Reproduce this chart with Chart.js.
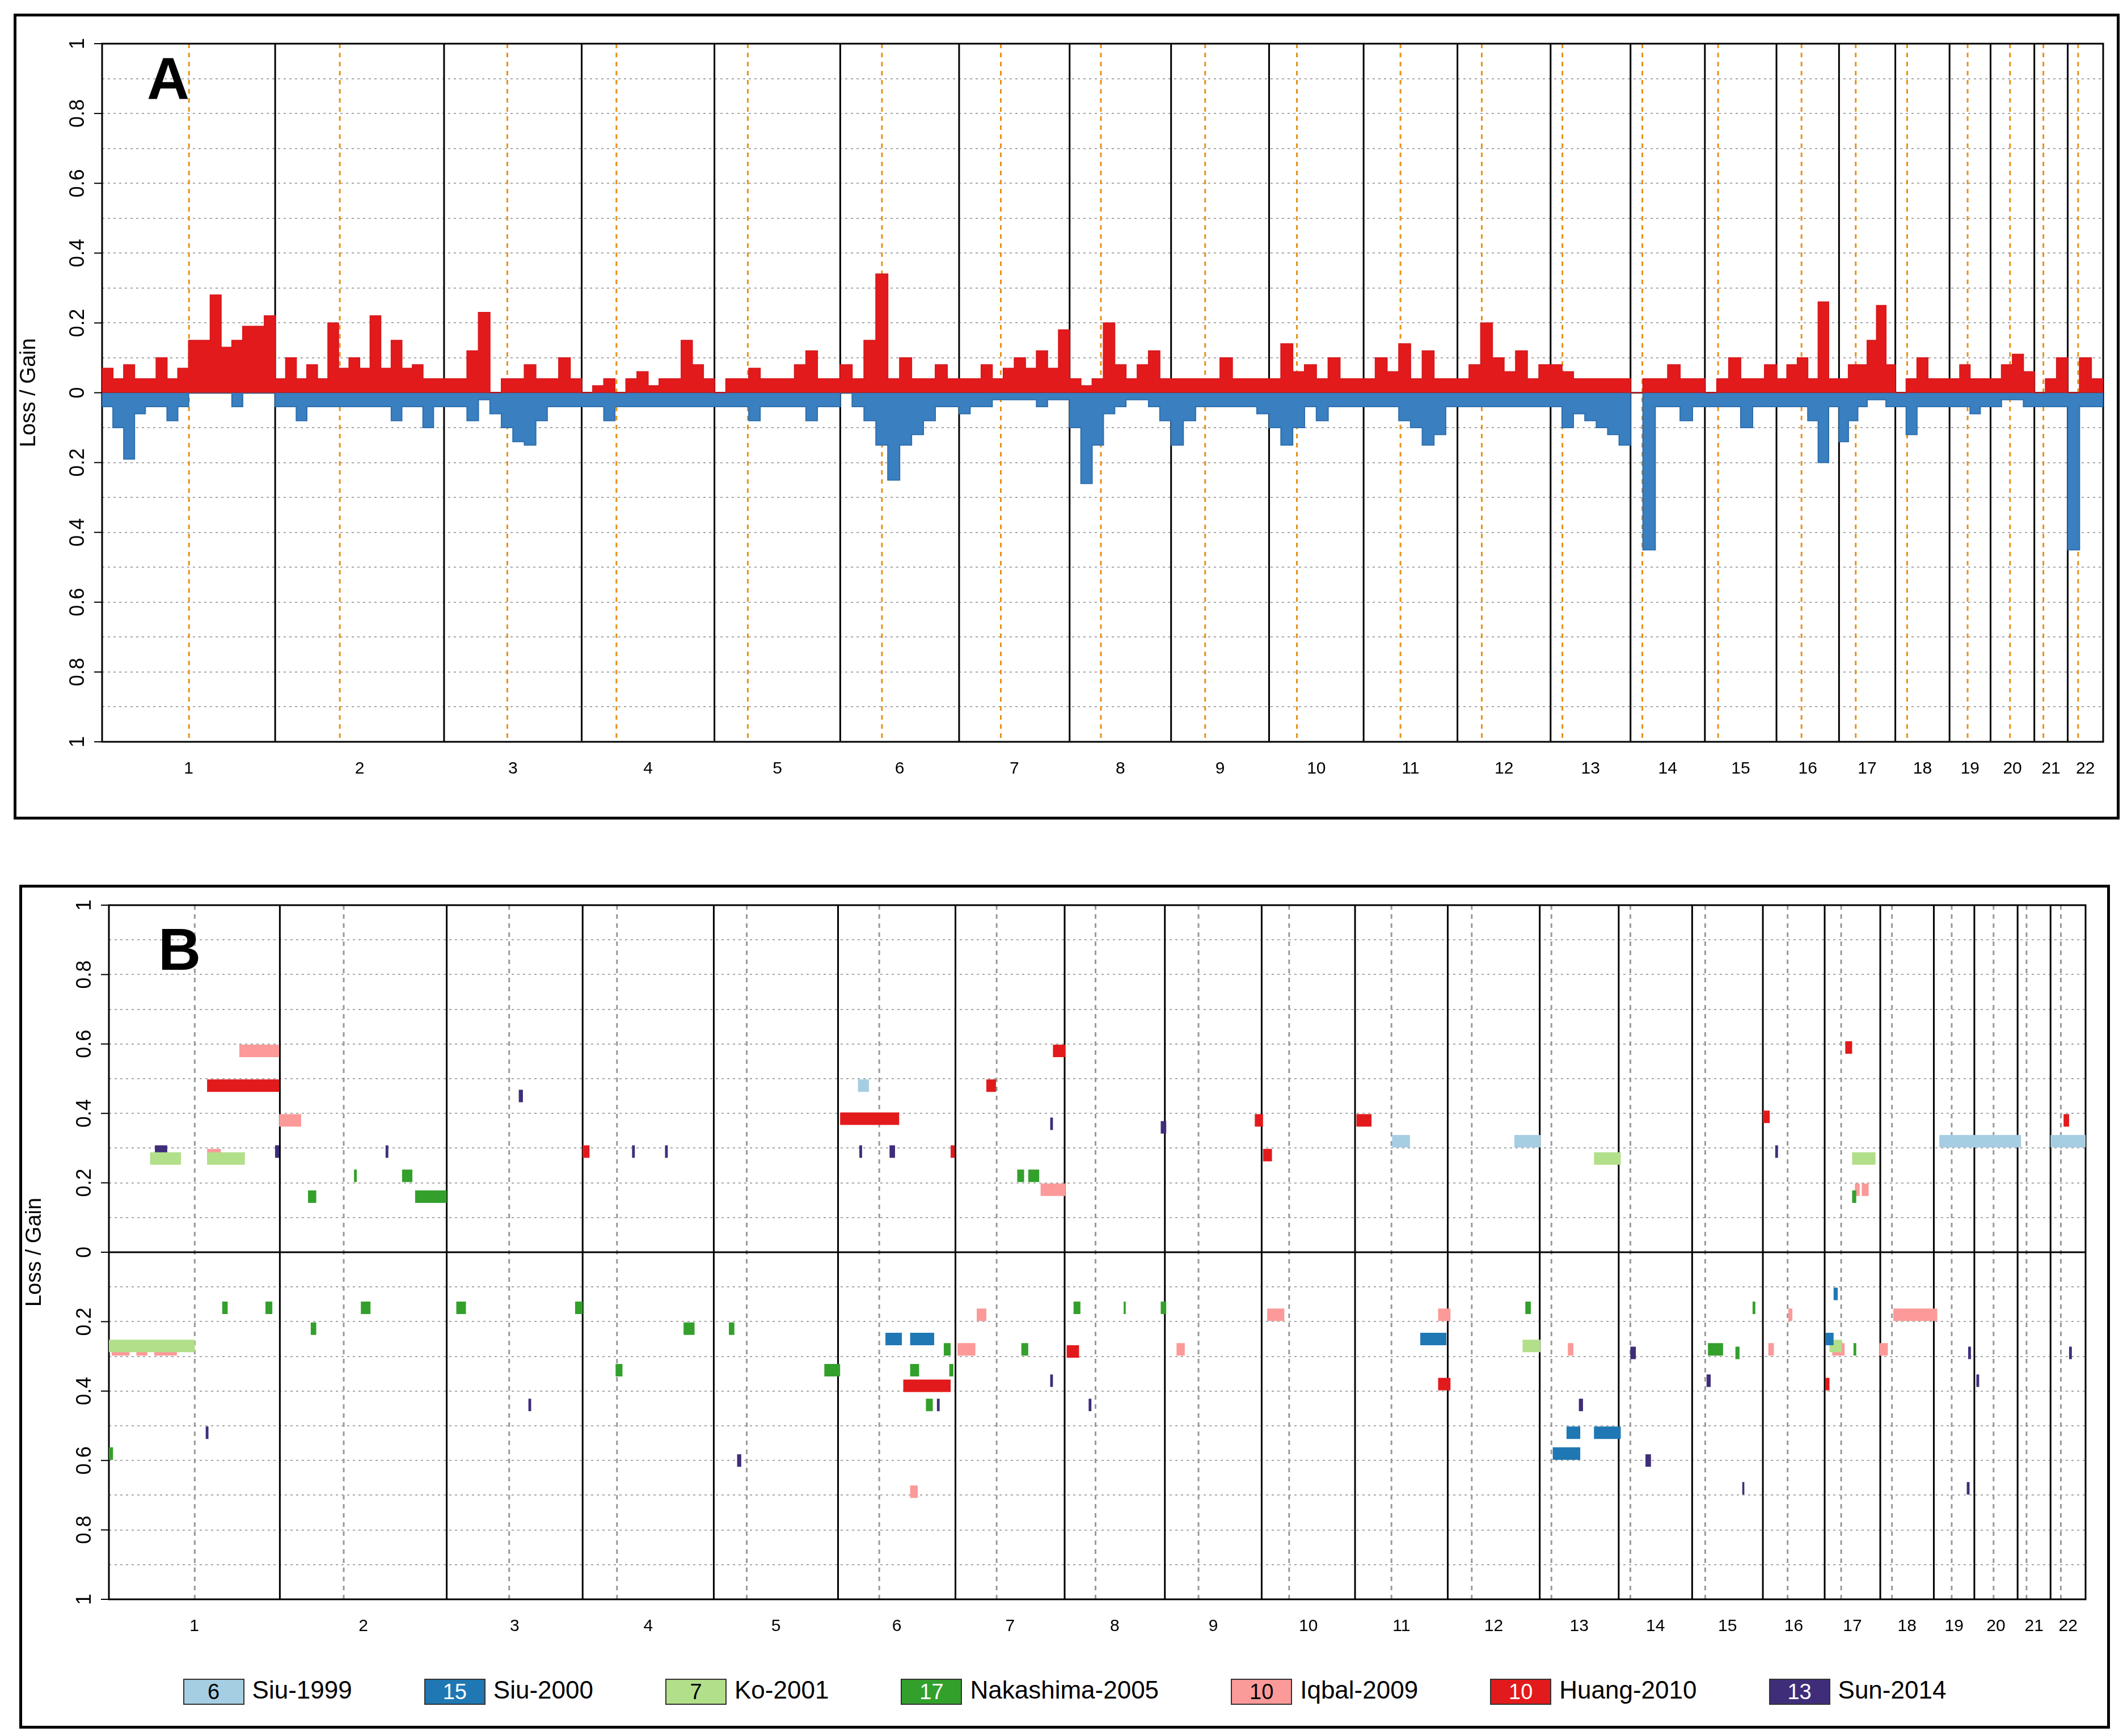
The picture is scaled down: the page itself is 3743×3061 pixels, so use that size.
<!DOCTYPE html>
<html lang="en">
<head>
<meta charset="UTF-8">
<title>Loss / Gain</title>
<script src="https://cdn.jsdelivr.net/npm/chart.js"></script>
<style>
  body { margin: 0; background: #fff; font-family: "Liberation Sans", Arial, sans-serif; }
  .panel { position: absolute; border: 5px solid #000; background: #fff; }
  .tag { position: absolute; font-weight: bold; font-size: 104px; }
  .legend { position: absolute; left: 0; right: 0; display: flex; justify-content: space-around; padding: 0 220px; font-size: 44px; }
  .legend span.box { display: inline-block; width: 104px; height: 42px; border: 2px solid #333; text-align: center; line-height: 42px; font-size: 38px; margin-right: 14px; vertical-align: middle; }
</style>
</head>
<body>
<div class="panel" style="left:24px;top:24px;width:3703px;height:1411px">
  <canvas id="chartA" width="3703" height="1411"></canvas>
  <div class="tag" style="left:230px;top:50px">A</div>
</div>
<div class="panel" style="left:34px;top:1560px;width:3676px;height:1478px">
  <canvas id="chartB" width="3676" height="1330"></canvas>
  <div class="tag" style="left:240px;top:50px">B</div>
  <div class="legend" id="legendB" style="top:1390px"></div>
</div>
<script>
// chromosome lengths and centromere positions (Mb)
const chromLabels = ['1','2','3','4','5','6','7','8','9','10','11','12','13','14','15','16','17','18','19','20','21','22'];
const chromLen = [249,243,198,191,181,171,159,146,141,136,135,134,115,107,103,90,81,78,59,63,48,51];
const centromere = [125,93,91,50,48,60,60,45,49,40,53,35,17,17,19,36,24,17,26,28,13,15];

// Panel A: gain / loss frequency, evenly spaced bins within each chromosome
const gainByChrom = [
  [0.07,0.04,0.08,0.04,0.04,0.1,0.04,0.07,0.15,0.15,0.28,0.13,0.15,0.19,0.19,0.22],
  [0.04,0.1,0.04,0.08,0.04,0.2,0.07,0.1,0.07,0.22,0.07,0.15,0.07,0.08,0.04,0.04],
  [0.04,0.04,0.12,0.23,0,0.04,0.04,0.08,0.04,0.04,0.1,0.04],
  [0,0.02,0.04,0,0.04,0.06,0.02,0.04,0.04,0.15,0.08,0.04],
  [0,0.04,0.04,0.07,0.04,0.04,0.04,0.08,0.12,0.04,0.04],
  [0.08,0.04,0.15,0.34,0.04,0.1,0.04,0.04,0.08,0.04],
  [0.04,0.04,0.08,0.04,0.07,0.1,0.07,0.12,0.07,0.18],
  [0.04,0.02,0.04,0.2,0.08,0.04,0.08,0.12,0.04],
  [0.04,0.04,0.04,0.04,0.1,0.04,0.04,0.04],
  [0.04,0.14,0.06,0.08,0.04,0.1,0.04,0.04],
  [0.04,0.1,0.06,0.14,0.04,0.12,0.04,0.04],
  [0.04,0.08,0.2,0.1,0.06,0.12,0.04,0.08],
  [0.08,0.06,0.04,0.04,0.04,0.04,0.04],
  [0,0.04,0.04,0.08,0.04,0.04],
  [0,0.04,0.1,0.04,0.04,0.08],
  [0.04,0.08,0.1,0.04,0.26,0.04],
  [0.04,0.08,0.08,0.15,0.25,0.08],
  [0,0.04,0.1,0.04,0.04],
  [0.04,0.08,0.04,0.04],
  [0.04,0.08,0.11,0.06],
  [0,0.04,0.1],
  [0,0.1,0.04]
];
const lossByChrom = [
  [0.04,0.1,0.19,0.06,0.04,0.04,0.08,0.04,0,0,0,0,0.04,0,0,0],
  [0.04,0.04,0.08,0.04,0.04,0.04,0.04,0.04,0.04,0.04,0.04,0.08,0.04,0.04,0.1,0.04],
  [0.04,0.04,0.08,0.02,0.06,0.1,0.14,0.15,0.08,0.04,0.04,0.04],
  [0.04,0.04,0.08,0.04,0.04,0.04,0.04,0.04,0.04,0.04,0.04,0.04],
  [0.04,0.04,0.04,0.08,0.04,0.04,0.04,0.04,0.08,0.04,0.04],
  [0,0.04,0.08,0.15,0.25,0.15,0.12,0.08,0.04,0.04],
  [0.06,0.04,0.04,0.02,0.02,0.02,0.02,0.04,0.02,0.02],
  [0.1,0.26,0.15,0.06,0.04,0.02,0.02,0.04,0.08],
  [0.15,0.08,0.04,0.04,0.04,0.04,0.04,0.06],
  [0.1,0.15,0.1,0.04,0.08,0.04,0.04,0.04],
  [0.04,0.04,0.04,0.08,0.1,0.15,0.12,0.04],
  [0.04,0.04,0.04,0.04,0.04,0.04,0.04,0.04],
  [0.04,0.1,0.06,0.08,0.1,0.12,0.15],
  [0,0.45,0.04,0.04,0.08,0.04],
  [0.04,0.04,0.04,0.1,0.04,0.04],
  [0.04,0.04,0.04,0.08,0.2,0.04],
  [0.14,0.08,0.04,0.02,0.02,0.04],
  [0.04,0.12,0.04,0.04,0.04],
  [0.04,0.04,0.06,0.04],
  [0.04,0.02,0.02,0.04],
  [0.04,0.04,0.04],
  [0.45,0.04,0.04]
];

// Panel B: segments per study [start Mb, end Mb, frequency] in genome-wide coordinates
const siu1999 = [[1091,1107,0.48],[1869,1895,0.32],[2047,2085,0.32],[2666,2785,0.32],[2828,2880,0.32]];
const siu2000 = [[1131,1155,-0.25],[1167,1202,-0.25],[1910,1948,-0.25],[2103,2143,-0.58],[2123,2143,-0.52],[2163,2202,-0.52],[2500,2512,-0.25],[2512,2518,-0.12]];
const ko2001 = [[60,105,0.27],[143,198,0.27],[2163,2202,0.27],[2539,2573,0.27],[0,125,-0.27],[2059,2085,-0.27],[2506,2524,-0.27]];
const nakashima2005 = [[290,302,0.16],[357,361,0.22],[427,442,0.22],[446,492,0.16],[1323,1333,0.22],[1339,1355,0.22],[2539,2545,0.16],
  [165,173,-0.16],[228,238,-0.16],[294,302,-0.22],[367,381,-0.16],[506,520,-0.16],[679,690,-0.16],[738,748,-0.34],[837,853,-0.22],[903,911,-0.22],
  [1042,1065,-0.34],[1167,1180,-0.34],[1216,1226,-0.28],[1190,1200,-0.44],[1224,1230,-0.34],[1329,1339,-0.28],[1405,1415,-0.16],[1478,1481,-0.16],
  [1532,1540,-0.16],[2063,2071,-0.16],[2329,2351,-0.28],[2369,2375,-0.29],[2394,2398,-0.16],[2541,2545,-0.28],[0,6,-0.58]];
const iqbal2009 = [[190,248,0.58],[248,280,0.38],[143,163,0.28],[1357,1393,0.18],[2543,2550,0.18],[2553,2563,0.18],
  [4,30,-0.28],[40,56,-0.28],[66,99,-0.28],[1264,1278,-0.18],[1236,1262,-0.28],[1687,1712,-0.18],[1555,1567,-0.28],[1936,1954,-0.18],
  [2125,2133,-0.28],[2446,2452,-0.18],[2417,2425,-0.28],[2510,2528,-0.28],[2579,2591,-0.28],[2599,2663,-0.18],[1167,1178,-0.69]];
const huang2010 = [[143,248,0.48],[1065,1151,0.385],[1375,1393,0.58],[1278,1292,0.48],[690,700,0.29],[1226,1232,0.29],[1669,1681,0.38],
  [1681,1694,0.28],[1817,1839,0.38],[2409,2419,0.39],[2529,2539,0.59],[2847,2855,0.38],
  [1157,1226,-0.385],[1395,1413,-0.286],[1936,1954,-0.38],[2500,2506,-0.38]];
const sun2014 = [[67,85,0.29],[597,603,0.45],[403,407,0.29],[242,248,0.29],[762,766,0.29],[810,814,0.29],[1093,1097,0.29],[1137,1145,0.29],
  [1371,1375,0.37],[1532,1540,0.36],[2427,2431,0.29],
  [141,145,-0.52],[611,615,-0.44],[915,921,-0.6],[1206,1210,-0.44],[1371,1375,-0.37],[1427,1431,-0.44],[2141,2147,-0.44],[2216,2224,-0.29],
  [2238,2246,-0.6],[2327,2333,-0.37],[2379,2382,-0.68],[2708,2712,-0.29],[2720,2724,-0.37],[2706,2710,-0.68],[2855,2859,-0.29]];

const studies = [
  {name:'Siu-1999', count:6, color:'#a6cee3', segs:siu1999},
  {name:'Siu-2000', count:15, color:'#1f78b4', segs:siu2000},
  {name:'Ko-2001', count:7, color:'#b2df8a', segs:ko2001},
  {name:'Nakashima-2005', count:17, color:'#33a02c', segs:nakashima2005},
  {name:'Iqbal-2009', count:10, color:'#fb9a99', segs:iqbal2009},
  {name:'Huang-2010', count:10, color:'#e31a1c', segs:huang2010},
  {name:'Sun-2014', count:13, color:'#3f2d7a', segs:sun2014}
];

// genome offsets
const offsets = [];
let acc = 0;
chromLen.forEach(l => { offsets.push(acc); acc += l; });
const genomeEnd = acc;
const centers = chromLen.map((l, i) => offsets[i] + l / 2);

function stepSeries(byChrom, sign) {
  const pts = [];
  byChrom.forEach((vals, c) => {
    const w = chromLen[c] / vals.length;
    vals.forEach((v, i) => pts.push({x: offsets[c] + i * w, y: sign * v}));
  });
  pts.push({x: genomeEnd, y: 0});
  return pts;
}

function linesPlugin(centroColor, centroDash) {
  return {
    id: 'chromLines',
    beforeDatasetsDraw(chart) {
      const {ctx, chartArea: a, scales: {x, y}} = chart;
      ctx.save();
      ctx.lineWidth = 3;
      ctx.strokeStyle = '#000';
      ctx.setLineDash([]);
      offsets.slice(1).forEach(o => {
        const px = x.getPixelForValue(o);
        ctx.beginPath(); ctx.moveTo(px, a.top); ctx.lineTo(px, a.bottom); ctx.stroke();
      });
      ctx.strokeStyle = centroColor;
      ctx.setLineDash(centroDash);
      centromere.forEach((c, i) => {
        const px = x.getPixelForValue(offsets[i] + c);
        ctx.beginPath(); ctx.moveTo(px, a.top); ctx.lineTo(px, a.bottom); ctx.stroke();
      });
      ctx.setLineDash([]);
      ctx.strokeStyle = '#000';
      const py = y.getPixelForValue(0);
      ctx.beginPath(); ctx.moveTo(a.left, py); ctx.lineTo(a.right, py); ctx.stroke();
      ctx.strokeRect(a.left, a.top, a.right - a.left, a.bottom - a.top);
      ctx.restore();
    },
    afterDraw(chart) {
      const {ctx, chartArea: a, scales: {y}} = chart;
      ctx.save();
      ctx.fillStyle = '#000';
      ctx.font = '36px "Liberation Sans", Arial';
      ctx.textAlign = 'center';
      ctx.textBaseline = 'middle';
      for (let k = -5; k <= 5; k++) {
        const v = k / 5;
        const py = y.getPixelForValue(v);
        ctx.beginPath(); ctx.moveTo(a.left - 14, py); ctx.lineTo(a.left, py); ctx.lineWidth = 2; ctx.stroke();
        ctx.save();
        ctx.translate(a.left - 42, py);
        ctx.rotate(-Math.PI / 2);
        ctx.fillText(String(Math.abs(v)), 0, 0);
        ctx.restore();
      }
      ctx.restore();
    }
  };
}

function axes(leftW, bottomH) {
  return {
    x: {
      type: 'linear', min: 0, max: genomeEnd,
      grid: {display: false},
      border: {display: false},
      afterBuildTicks: s => { s.ticks = centers.map(v => ({value: v})); },
      afterFit: s => { s.height = bottomH; },
      ticks: {autoSkip: false, maxRotation: 0, padding: 22, color: '#000',
        font: {size: 30, family: '"Liberation Sans", Arial'},
        callback: (v, i) => chromLabels[i]}
    },
    y: {
      min: -1, max: 1,
      afterFit: s => { s.width = leftW; },
      border: {display: false},
      grid: {color: '#a8a8a8', lineWidth: 2, drawTicks: false},
      ticks: {stepSize: 0.1, callback: () => ''},
      title: {display: true, text: 'Loss / Gain', color: '#000', padding: 0,
        font: {size: 38, family: '"Liberation Sans", Arial'}}
    }
  };
}

// dashed grid lines
Chart.defaults.scale.border.dash = [4, 6];

new Chart(document.getElementById('chartA'), {
  type: 'line',
  data: {
    datasets: [
      {data: stepSeries(gainByChrom, 1), stepped: 'before', fill: 'origin', borderColor: '#d7191c', backgroundColor: '#e31a1c', borderWidth: 2, pointRadius: 0},
      {data: stepSeries(lossByChrom, -1), stepped: 'before', fill: 'origin', borderColor: '#2c6fae', backgroundColor: '#3a7fc0', borderWidth: 2, pointRadius: 0}
    ]
  },
  options: {
    responsive: false, animation: false, devicePixelRatio: 1,
    layout: {padding: {top: 48, right: 24, left: 0, bottom: 0}},
    plugins: {legend: {display: false}, tooltip: {enabled: false}},
    scales: axes(151, 132)
  },
  plugins: [linesPlugin('#e8901a', [8, 8])]
});

new Chart(document.getElementById('chartB'), {
  type: 'line',
  data: {
    datasets: studies.map(s => ({
      label: s.name,
      data: s.segs.flatMap(g => [{x: g[0], y: g[2]}, {x: g[1], y: g[2]}, {x: g[1], y: null}]),
      borderColor: s.color, borderWidth: 22, borderCapStyle: 'butt',
      pointRadius: 0, spanGaps: false, fill: false
    }))
  },
  options: {
    responsive: false, animation: false, devicePixelRatio: 1,
    layout: {padding: {top: 31, right: 38, left: 0, bottom: 0}},
    plugins: {legend: {display: false}, tooltip: {enabled: false}},
    scales: axes(153, 75)
  },
  plugins: [linesPlugin('#999', [8, 8])]
});

const leg = document.getElementById('legendB');
studies.forEach(s => {
  const d = document.createElement('div');
  const dark = ['Siu-2000', 'Nakashima-2005', 'Huang-2010', 'Sun-2014'].includes(s.name);
  d.innerHTML = '<span class="box" style="background:' + s.color + ';color:' + (dark ? '#fff' : '#000') + '">' + s.count + '</span>' + s.name;
  leg.appendChild(d);
});
</script>
</body>
</html>
